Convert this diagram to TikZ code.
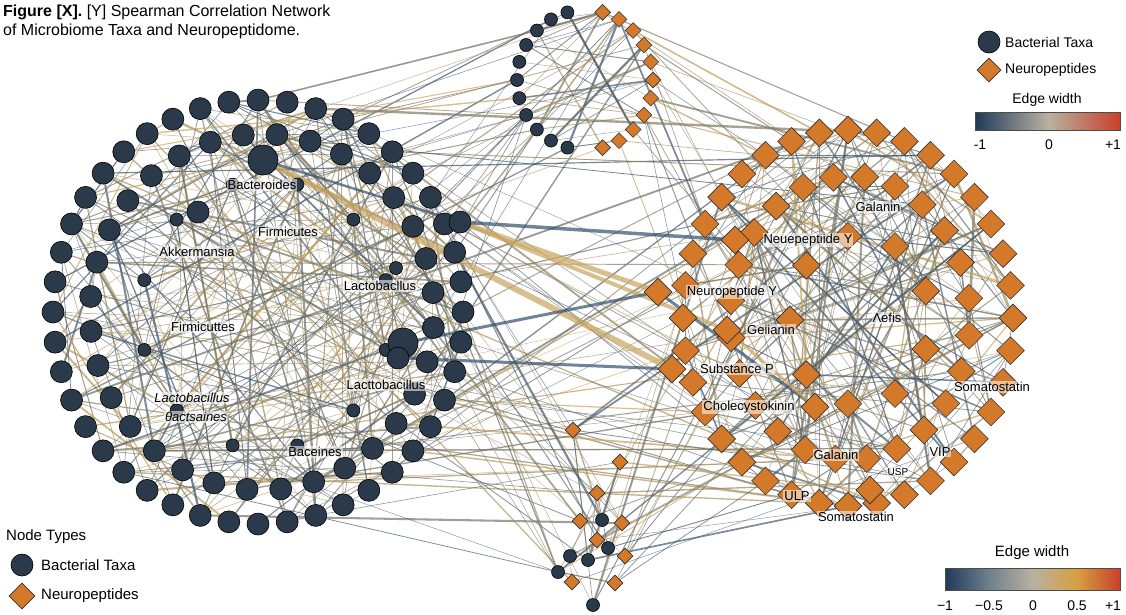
\documentclass[tikz,border=0pt]{standalone}
\usepackage{fontspec}
\setmainfont{Liberation Sans}
\usetikzlibrary{shapes.geometric}
\pgfdeclarelayer{bg0}\pgfdeclarelayer{background}\pgfsetlayers{bg0,background,main}
\definecolor{bact}{HTML}{2B3A4A}
\definecolor{neur}{HTML}{D4782A}
\definecolor{eb}{HTML}{34506E}
\definecolor{et}{HTML}{C8A45E}
\definecolor{cb1}{HTML}{1F3A5A}
\definecolor{cb2}{HTML}{70808C}
\definecolor{cb3}{HTML}{B8B2A0}
\definecolor{cb4}{HTML}{D6A040}
\definecolor{cb5}{HTML}{C8402A}
\tikzset{
 bnode/.style={circle,fill=bact,draw=black,line width=0.6pt,minimum size=22pt,inner sep=0pt},
 bsmall/.style={bnode,minimum size=13pt},
 bbig/.style={bnode,minimum size=30pt},
 dnode/.style={diamond,fill=neur,draw=black!80,line width=0.6pt,minimum size=28pt,inner sep=0pt},
 dsmall/.style={dnode,minimum size=16pt},
 lab/.style={font=\fontsize{13}{15}\selectfont,text=black,inner sep=1pt,fill=white,fill opacity=0.55,text opacity=1},
 leg/.style={text=black,inner sep=1pt},
 edge/.style={line width=#1,opacity=0.7},
}
\begin{document}
\begin{tikzpicture}[x=1pt,y=-1pt]
\useasboundingbox (0,0) rectangle (1126,614);
\begin{pgfonlayer}{bg0}\fill[white] (0,0) rectangle (1126,614);\end{pgfonlayer}
% left cluster
\foreach \i in {1,...,44}{\node[bnode] (L\i) at ({258+205*cos(360/44*\i)},{312+212*sin(360/44*\i)}) {};}
\foreach \i in {1,...,32}{\node[bnode] (M\i) at ({262+172*cos(360/32*\i+5)},{312+178*sin(360/32*\i+5)}) {};}
\foreach \i in {1,...,12}{\node[bsmall] (N\i) at ({265+125*cos(360/12*\i+15)},{315+135*sin(360/12*\i+15)}) {};}
\node[bbig] (bA) at (263,160) {};
\node[bnode] (bB) at (198,212) {};
\node[bnode] (bC) at (460,222) {};
\node[bbig] (bD) at (403,343) {};
\node[bnode] (bE) at (398,358) {};
\node[bsmall] (bF) at (396,268) {};
% top cluster
\foreach \i in {1,...,11}{\node[bsmall] (T\i) at ({585+68*cos(90+180/12*\i)},{80+70*sin(90+180/12*\i)}) {};}
\foreach \i in {1,...,11}{\node[dsmall] (U\i) at ({585+68*cos(-90+180/12*\i)},{80+70*sin(-90+180/12*\i)}) {};}
% right cluster
\foreach \i in {1,...,36}{\node[dnode] (R\i) at ({848+165*cos(360/36*\i)},{318+188*sin(360/36*\i)}) {};}
\foreach \i in {1,...,24}{\node[dnode] (S\i) at ({850+120*cos(360/24*\i+7)},{318+142*sin(360/24*\i+7)}) {};}
\foreach \i in {1,...,9}{\node[dnode] (Q\i) at ({860+70*cos(360/9*\i+20)},{320+85*sin(360/9*\i+20)}) {};}
\node[dnode] (nA) at (735,240) {};
\node[dnode] (nB) at (658,292) {};
\node[dnode] (nC) at (727,330) {};
\node[dnode] (nD) at (672,369) {};
\node[dnode] (nE) at (815,407) {};
\node[dnode] (nF) at (870,490) {};
% bottom cluster
\foreach \p [count=\i] in {(573,430),(620,462),(597,493),(580,521),(622,523),(597,540),(625,556),(572,582),(615,583)}{\node[dsmall] (D\i) at \p {};}
\foreach \p [count=\i] in {(570,556),(588,560),(608,548),(593,605),(558,572),(602,520)}{\node[bsmall] (C\i) at \p {};}
% edges
\begin{pgfonlayer}{background}
\pgfmathsetseed{7}
\newcommand\edges[5]{%
 \foreach \k in {1,...,#1}{%
  \pgfmathtruncatemacro\ea{random(1,#3)}\pgfmathtruncatemacro\eb{random(1,#5)}%
  \pgfmathtruncatemacro\pc{random(0,100)}\pgfmathsetmacro\w{0.4+2.2*rnd*rnd}%
  \draw[edge=\w pt,draw=eb!\pc!et] (#2\ea) -- (#4\eb);}}
\edges{60}{L}{44}{M}{32}\edges{60}{L}{44}{L}{44}\edges{50}{M}{32}{N}{12}\edges{40}{L}{44}{N}{12}\edges{30}{M}{32}{M}{32}
\edges{60}{R}{36}{S}{24}\edges{60}{R}{36}{R}{36}\edges{40}{S}{24}{Q}{9}\edges{30}{R}{36}{Q}{9}\edges{30}{S}{24}{S}{24}
\edges{30}{T}{11}{U}{11}\edges{20}{L}{44}{T}{11}\edges{20}{R}{36}{U}{11}\edges{12}{M}{32}{U}{11}
\edges{30}{L}{44}{R}{36}\edges{20}{M}{32}{S}{24}\edges{15}{L}{44}{D}{9}\edges{15}{R}{36}{D}{9}\edges{15}{D}{9}{C}{6}\edges{10}{L}{44}{C}{6}\edges{10}{R}{36}{C}{6}
\draw[edge=5pt,draw=et] (bC) -- (nB);
\draw[edge=6pt,draw=et] (bA) -- (nD);
\draw[edge=4pt,draw=et] (bC) -- (nC);
\draw[edge=3.5pt,draw=eb] (bC) -- (nA);
\draw[edge=3pt,draw=eb] (bD) -- (nB);
\draw[edge=3pt,draw=eb] (bE) -- (nD);
\draw[edge=3pt,draw=eb] (nB) -- (nE);
\draw[edge=3pt,draw=et] (nC) -- (nE);
\draw[edge=2.5pt,draw=eb] (bA) -- (bC);
\end{pgfonlayer}
% labels
\node[lab] at (262,185) {Bacteroides};
\node[lab] at (197,252) {Akkermansia};
\node[lab] at (288,232) {Firmicutes};
\node[lab] at (380,286) {Lactobacllus};
\node[lab] at (203,327) {Firmicuttes};
\node[lab] at (386,385) {Lacttobacillus};
\node[lab,font=\fontsize{13}{15}\selectfont\itshape] at (192,398) {Lactobacillus};
\node[lab,font=\fontsize{13}{15}\selectfont\itshape] at (196,417) {θactsaines};
\node[lab] at (315,452) {Baceines};
\node[lab] at (808,240) {Neuepeptiide Y};
\node[lab] at (878,207) {Galanin};
\node[lab] at (732,292) {Neuropeptide Y};
\node[lab] at (771,330) {Geiianin};
\node[lab] at (887,318) {Λefis};
\node[lab] at (737,369) {Substance P};
\node[lab] at (749,407) {Cholecystokinin};
\node[lab] at (992,387) {Somatostatin};
\node[lab] at (836,455) {Galanin};
\node[lab] at (940,452) {VIP};
\node[lab,font=\fontsize{10}{12}\selectfont] at (898,472) {USP};
\node[lab] at (797,496) {ULP};
\node[lab] at (856,517) {Somatostatin};
% title
\node[anchor=north west,align=left,font=\fontsize{16}{19}\selectfont,inner sep=0pt] at (3,5) {\textbf{Figure [X].} [Y] Spearman Correlation Network\\of Microbiome Taxa and Neuropeptidome.};
% top-right legend
\node[bnode] (lg1) at (989,42) {};
\node[leg,anchor=west,font=\fontsize{14}{16}\selectfont] at (1004,42) {Bacterial Taxa};
\node[dnode,minimum size=24pt] (lg2) at (989,70) {};
\node[leg,anchor=west,font=\fontsize{14}{16}\selectfont] at (1004,70) {Neuropeptides};
\node[leg,font=\fontsize{14}{16}\selectfont] at (1047,100) {Edge width};
\shade[left color=cb1,right color=cb3] (975,112) rectangle (1048,130);
\shade[left color=cb3,right color=cb5] (1048,112) rectangle (1120,130);
\draw[black!70,line width=0.5pt] (975,112) rectangle (1120,130);
\node[leg,font=\fontsize{14}{16}\selectfont] at (980,145) {-1};
\node[leg,font=\fontsize{14}{16}\selectfont] at (1049,145) {0};
\node[leg,font=\fontsize{14}{16}\selectfont] at (1113,145) {+1};
% bottom-left legend
\node[leg,anchor=west,font=\fontsize{15}{17}\selectfont] at (5,537) {Node Types};
\node[bnode] (lg3) at (22,565) {};
\node[leg,anchor=west,font=\fontsize{15}{17}\selectfont] at (40,565) {Bacterial Taxa};
\node[dnode,minimum size=26pt] (lg4) at (22,596) {};
\node[leg,anchor=west,font=\fontsize{15}{17}\selectfont] at (40,596) {Neuropeptides};
% bottom-right colorbar
\node[leg,font=\fontsize{15}{17}\selectfont] at (1032,553) {Edge width};
\shade[left color=cb1,right color=cb2] (945,568) rectangle (989,590);
\shade[left color=cb2,right color=cb3] (989,568) rectangle (1033,590);
\shade[left color=cb3,right color=cb4] (1033,568) rectangle (1077,590);
\shade[left color=cb4,right color=cb5] (1077,568) rectangle (1120,590);
\draw[black!70,line width=0.5pt] (945,568) rectangle (1120,590);
\foreach \x/\t in {945/−1,989/−0.5,1033/0,1077/0.5,1113/+1}{\node[leg,font=\fontsize{14}{16}\selectfont] at (\x,606) {\t};}
\end{tikzpicture}
\end{document}
